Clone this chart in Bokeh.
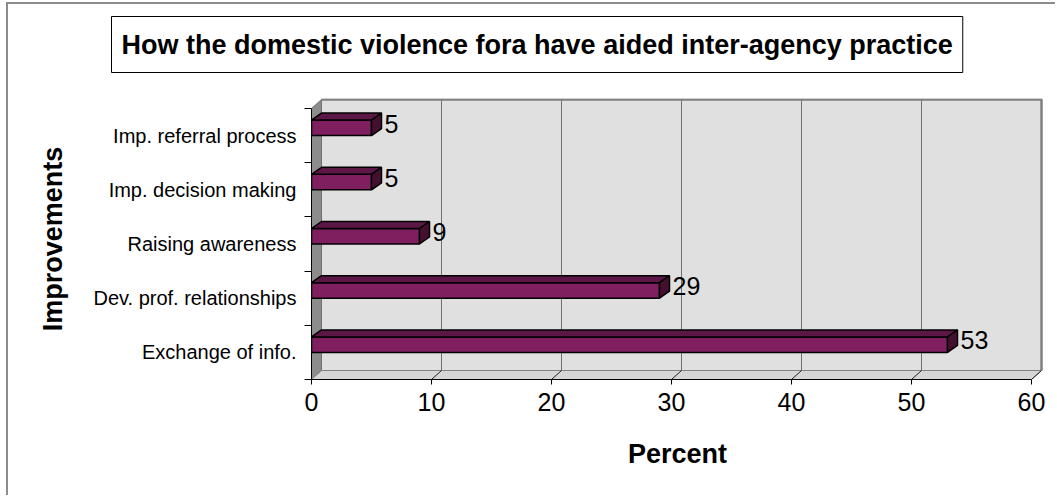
from bokeh.plotting import figure
from bokeh.models import Range1d, FixedTicker, LinearAxis
from bokeh.embed import file_html
from bokeh.resources import INLINE
from bokeh.core.properties import value

# ---------------- data ----------------
title_text = "How the domestic violence fora have aided inter-agency practice"
categories = ["Exchange of info.", "Dev. prof. relationships", "Raising awareness",
              "Imp. decision making", "Imp. referral process"]
percent = [53, 29, 9, 5, 5]
x_ticks = [0, 10, 20, 30, 40, 50, 60]
x_label = "Percent"
y_label = "Improvements"

# ---------------- layout / style ----------------
FONT = "Liberation Sans"
W, H = 1057, 497
OX, OY = 8, 4                           # outer chart-area border offset
FL, FR, FT, FB = 311, 1043, 98, 379     # frame edges in window pixels
PX_X = 12.0    # pixels per percent
PX_Y = 54.2    # pixels per category
n = len(categories)
xmax = x_ticks[-1]

DX, DY = 10 / PX_X, 9 / PX_Y       # wall depth
BDX, BDY = 10 / PX_X, 7 / PX_Y     # bar depth
BAR_H = 15.5 / PX_Y

PW, PH = W - OX, H - OY
p = figure(width=PW, height=PH, output_backend="svg", toolbar_location=None,
           x_range=Range1d(0, (FR - FL) / PX_X), y_range=Range1d(0, (FB - FT) / PX_Y),
           min_border_left=FL - OX, min_border_right=W - FR, min_border_top=FT - OY,
           min_border_bottom=H - FB, title=title_text)
p.margin = (OY - 2, 0, 0, OX - 2)
p.styles = {"border-left": "2px solid #8c8c8c", "border-top": "2px solid #8c8c8c"}
p.outline_line_color = None
p.xgrid.visible = False
p.ygrid.visible = False
p.background_fill_color = "white"
p.border_fill_color = "white"

# the real axes (grab them before adding the spacer)
xa = p.below[0]
ya = p.left[0]

# invisible (white-on-white) spacer between title box and plot area
spacer = LinearAxis(ticker=FixedTicker(ticks=[x_ticks[0]], minor_ticks=[]), axis_line_color=None,
                    major_tick_line_color="white", minor_tick_line_color=None,
                    major_tick_out=21, major_tick_in=0, minor_tick_out=0, minor_tick_in=0,
                    major_label_overrides={x_ticks[0]: ""},
                    major_label_text_font_size="0px", major_label_standoff=0)
p.add_layout(spacer, "above")

# title box
t = p.title
t.align = "left"
t.offset = -200
t.standoff = 10
t.text_font = FONT
t.text_font_style = "bold"
t.text_font_size = "27px"
t.text_color = "black"
t.background_fill_color = "white"
t.border_line_color = "black"
t.border_line_width = 1
t.padding = dict(x=10, y=13)

# back wall
p.quad(left=DX, right=xmax + DX, bottom=DY, top=n + DY, fill_color="#e0e0e0", line_color=None)
# side wall
p.patch([0, DX, DX, 0], [0, DY, n + DY, n], fill_color="#8c8c8c", line_color="#707070", line_width=1)
# floor
p.patch([0, xmax, xmax + DX, DX], [0, 0, DY, DY], fill_color="#d6d6d6", line_color="#808080", line_width=1)
# gridlines on wall
gx = [t_ + DX for t_ in x_ticks[1:-1]]
p.segment(x0=gx, y0=[DY] * len(gx), x1=gx, y1=[n + DY] * len(gx), line_color="#707070", line_width=1)
# floor diagonals
fx = x_ticks[1:]
p.segment(x0=fx, y0=[0] * len(fx), x1=[t_ + DX for t_ in fx], y1=[DY] * len(fx), line_color="#202020", line_width=1)
# wall outline (top + right)
p.line([DX, xmax + DX, xmax + DX], [n + DY, n + DY, DY], line_color="#808080", line_width=2.5)

# bars
centers = [i + 0.5 for i in range(n)]
p.quad(left=[0] * n, right=percent, bottom=centers, top=[c + BAR_H for c in centers],
       fill_color="#7f1f5f", line_color="black", line_width=1.5)
top_xs = [[0, BDX, v + BDX, v] for v in percent]
top_ys = [[c + BAR_H, c + BAR_H + BDY, c + BAR_H + BDY, c + BAR_H] for c in centers]
p.patches(top_xs, top_ys, fill_color="#5d1746", line_color="black", line_width=1.5)
side_xs = [[v, v + BDX, v + BDX, v] for v in percent]
side_ys = [[c, c + BDY, c + BAR_H + BDY, c + BAR_H] for c in centers]
p.patches(side_xs, side_ys, fill_color="#44102f", line_color="black", line_width=1.5)

# value labels
p.text(x=percent, y=[c + 12 / PX_Y for c in centers], text=[str(v) for v in percent],
       x_offset=13, text_baseline="middle", text_align="left",
       text_font=value(FONT), text_font_size="25px", text_color="black")

# x axis
xa.ticker = FixedTicker(ticks=x_ticks, minor_ticks=[])
xa.bounds = (0, xmax)
xa.axis_line_color = "black"
xa.major_tick_in = 0
xa.major_tick_out = 5
xa.minor_tick_in = 0
xa.minor_tick_out = 0
xa.major_tick_line_color = "black"
xa.major_label_text_font = FONT
xa.major_label_text_font_size = "25px"
xa.major_label_text_color = "black"
xa.major_label_standoff = 8
xa.axis_label = x_label
xa.axis_label_text_font = FONT
xa.axis_label_text_font_style = "bold"
xa.axis_label_text_font_size = "27px"
xa.axis_label_text_color = "black"
xa.axis_label_standoff = 25

# y axis
ya.ticker = FixedTicker(ticks=centers, minor_ticks=list(range(n + 1)))
ya.bounds = (0, n)
ya.axis_line_color = "black"
ya.major_tick_in = 0
ya.major_tick_out = 0
ya.minor_tick_in = 0
ya.minor_tick_out = 7
ya.minor_tick_line_color = "black"
ya.major_label_overrides = {c: cat for c, cat in zip(centers, categories)}
ya.major_label_text_font = FONT
ya.major_label_text_font_size = "20px"
ya.major_label_text_color = "black"
ya.major_label_standoff = 8
ya.axis_label = y_label
ya.axis_label_text_font = FONT
ya.axis_label_text_font_style = "bold"
ya.axis_label_text_font_size = "27px"
ya.axis_label_text_color = "black"
ya.axis_label_standoff = 22

open("out.html", "w").write(file_html(p, INLINE))
